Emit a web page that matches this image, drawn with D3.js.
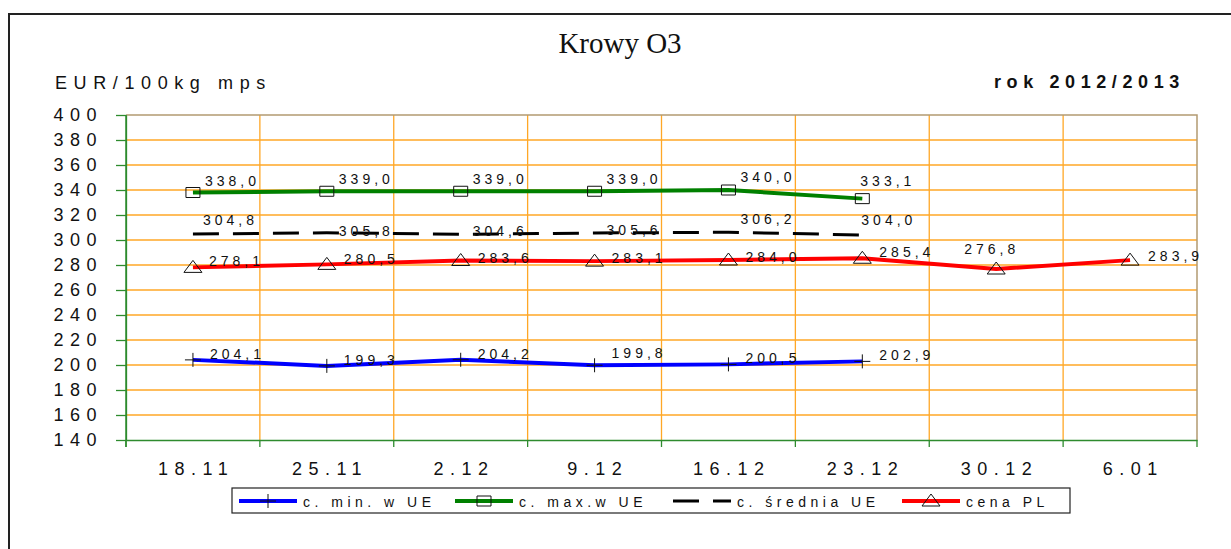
<!DOCTYPE html>
<html lang="pl">
<head>
<meta charset="utf-8">
<title>Krowy O3</title>
<script src="https://cdn.jsdelivr.net/npm/d3@7"></script>
<style>
body{margin:0;background:#fff;}
text{font-family:Arial,"Liberation Sans",sans-serif;fill:#111;}
</style>
</head>
<body>
<script>
// data
var cats = ["18.11","25.11","2.12","9.12","16.12","23.12","30.12","6.01"];
var minUE = [204.1,199.3,204.2,199.8,200.5,202.9];
var maxUE = [338.0,339.0,339.0,339.0,340.0,333.1];
var avgUE = [304.8,305.8,304.6,305.6,306.2,304.0];
var cenaPL = [278.1,280.5,283.6,283.1,284.0,285.4,276.8,283.9];
var yTicks = d3.range(140,401,20);
var names = ["c. min. w UE","c. max.w UE","c. średnia UE","cena PL"];

var width = 1231, height = 549;
var plotL = 126, plotR = 1197, plotT = 115, plotB = 440;

var svg = d3.select("body").append("svg")
  .attr("width",width).attr("height",height);

// outer frame
svg.append("path").attr("d","M9,549V14H1231")
  .attr("fill","none").attr("stroke","#222").attr("stroke-width",2);

var x = d3.scaleBand().domain(cats).range([plotL,plotR]);
var y = d3.scaleLinear().domain([140,400]).range([plotB,plotT]);
function cx(i){ return x(cats[i]) + x.bandwidth()/2; }

var grid = "#ffa726", axisCol = "#2e8b2e", border = "#b39a72";

// horizontal gridlines
svg.append("g").selectAll("line").data(yTicks.filter(function(d){return d>140 && d<400;}))
  .enter().append("line")
  .attr("x1",plotL).attr("x2",plotR)
  .attr("y1",function(d){return y(d);}).attr("y2",function(d){return y(d);})
  .attr("stroke",grid).attr("stroke-width",1.3);
// vertical gridlines at category boundaries
svg.append("g").selectAll("line").data(cats.slice(1))
  .enter().append("line")
  .attr("x1",function(d){return x(d);}).attr("x2",function(d){return x(d);})
  .attr("y1",plotT).attr("y2",plotB)
  .attr("stroke",grid).attr("stroke-width",1.3);
// top / right border
svg.append("path").attr("d","M"+plotL+","+y(400)+"H"+plotR+"V"+plotB)
  .attr("fill","none").attr("stroke",border).attr("stroke-width",1.5);

// y axis
var yAxis = svg.append("g").attr("transform","translate("+plotL+",0)")
  .call(d3.axisLeft(y).tickValues(yTicks).tickSize(10).tickSizeOuter(0).tickPadding(13));
yAxis.selectAll("line,path").attr("stroke",axisCol).attr("stroke-width",1.3);
yAxis.selectAll("text").attr("font-size",18).attr("letter-spacing",6.5)
  .attr("font-family","Arial, 'Liberation Sans', sans-serif").attr("fill","#111");

// x axis
var xAxis = svg.append("g").attr("transform","translate(0,"+plotB+")")
  .call(d3.axisBottom(x).tickSize(0).tickSizeOuter(0).tickPadding(22));
xAxis.select(".domain").attr("stroke",axisCol).attr("stroke-width",1.3);
xAxis.selectAll("text").attr("font-size",18).attr("letter-spacing",6.5).attr("dx",3.2)
  .attr("font-family","Arial, 'Liberation Sans', sans-serif").attr("fill","#111");
// boundary ticks
svg.append("g").selectAll("line").data(d3.range(cats.length+1))
  .enter().append("line")
  .attr("x1",function(i){return plotL + i*x.step();}).attr("x2",function(i){return plotL + i*x.step();})
  .attr("y1",plotB).attr("y2",plotB+7)
  .attr("stroke",axisCol).attr("stroke-width",1.3);
svg.append("line").attr("x1",plotL).attr("x2",plotL).attr("y1",plotT).attr("y2",plotB+7)
  .attr("stroke",axisCol).attr("stroke-width",1.5);

// markers
function plusPath(){ return "M-8,0H8M0,-7V7"; }
function squarePath(){ return "M-7,-5H7V5H-7Z"; }
function triPath(){ return "M0,-7L9,5H-9Z"; }

var series = [
  {vals:minUE, color:"#0000ff", w:4, dash:null, mark:plusPath, dx:17, dy:[-1,-1,-1,-7,-1,-1]},
  {vals:maxUE, color:"#008000", w:4, dash:null, mark:squarePath, dx:[12,12,12,12,12,-2], dy:[-7,-7,-7,-7,-8,-13]},
  {vals:avgUE, color:"#000000", w:3, dash:"26,14", mark:null, dx:[10,12,12,12,12,-1], dy:[-9,3,2,2,-8,-10]},
  {vals:cenaPL, color:"#ff0000", w:4, dash:null, mark:triPath, dx:[16,17,17,17,17,17,-32,18], dy:[-1,0,2,2,2,-1,-15,1]}
];

var line = d3.line().x(function(d,i){return cx(i);}).y(function(d){return y(d);});
var fmt = function(v){ return d3.format(".1f")(v).replace(".",","); };

series.forEach(function(s){
  svg.append("path").datum(s.vals).attr("d",line)
    .attr("fill","none").attr("stroke",s.color).attr("stroke-width",s.w)
    .attr("stroke-dasharray",s.dash);
});
series.forEach(function(s){
  if(s.mark){
    svg.append("g").selectAll("path").data(s.vals).enter().append("path")
      .attr("transform",function(d,i){return "translate("+cx(i)+","+y(d)+")";})
      .attr("d",s.mark).attr("fill","none").attr("stroke","#111").attr("stroke-width",1);
  }
  svg.append("g").selectAll("text").data(s.vals).enter().append("text")
    .attr("x",function(d,i){return cx(i) + (Array.isArray(s.dx)?s.dx[i]:s.dx);})
    .attr("y",function(d,i){return y(d) + (Array.isArray(s.dy)?s.dy[i]:s.dy);})
    .attr("font-size",14).attr("letter-spacing",4)
    .text(fmt);
});

// titles
svg.append("text").attr("x",620).attr("y",53).attr("text-anchor","middle")
  .attr("font-size",29).style("font-family","'Times New Roman','Liberation Serif',serif")
  .text("Krowy O3");
svg.append("text").attr("x",55).attr("y",89).attr("font-size",18).attr("letter-spacing",6.6)
  .text("EUR/100kg mps");
svg.append("text").attr("x",994).attr("y",88).attr("font-size",18).attr("font-weight","bold")
  .attr("letter-spacing",5.6).text("rok 2012/2013");

// legend
var lg = svg.append("g");
lg.append("rect").attr("x",232).attr("y",488).attr("width",838).attr("height",25)
  .attr("fill","#fff").attr("stroke","#222").attr("stroke-width",1.2);
var legX = [239,455,673,902];
series.forEach(function(s,k){
  var g = lg.append("g").attr("transform","translate("+legX[k]+",501)");
  g.append("line").attr("x1",0).attr("x2",58).attr("y1",0).attr("y2",0)
    .attr("stroke",s.color).attr("stroke-width",s.w).attr("stroke-dasharray",s.dash);
  if(s.mark) g.append("path").attr("transform","translate(29,0)").attr("d",s.mark)
    .attr("fill","none").attr("stroke","#111").attr("stroke-width",1);
  g.append("text").attr("x",64).attr("y",5.5).attr("font-size",14).attr("letter-spacing",4.5)
    .text(names[k]);
});
</script>
</body>
</html>
